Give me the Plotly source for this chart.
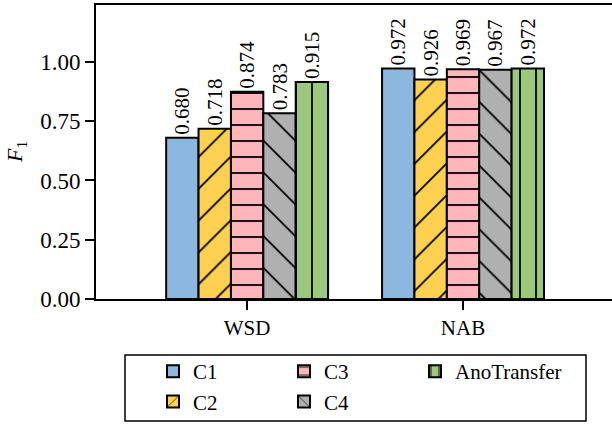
import plotly.graph_objects as go

categories = ["WSD", "NAB"]
series_names = ["C1", "C2", "C3", "C4", "AnoTransfer"]
c1 = [0.680, 0.972]
c2 = [0.718, 0.926]
c3 = [0.874, 0.969]
c4 = [0.783, 0.967]
anotransfer = [0.915, 0.972]
values = [c1, c2, c3, c4, anotransfer]
y_tickvals = [0.0, 0.25, 0.5, 0.75, 1.0]
y_ticktext = ["0.00", "0.25", "0.50", "0.75", "1.00"]
y_title = "<i>F</i><sub>1</sub>"

colors = ["#8CB8E0", "#FED250", "#FFB6BA", "#B0B0B0", "#9BC87D"]
shapes = ["", "/", "-", "\\", "|"]
sizes = [10, 22.5, 16, 22.5, 16]
legend_ids = ["legend", "legend", "legend2", "legend2", "legend3"]

FONT = "Liberation Serif"
W, H = 612, 424
ML, MR, MT, MB = 96, 0, 5, 125

fig = go.Figure()
for name, vals, col, shp, sz, lg in zip(series_names, values, colors, shapes, sizes, legend_ids):
    fig.add_trace(go.Bar(
        x=categories, y=vals, name=name,
        text=[f"{v:.3f}" for v in vals],
        textposition="outside", textangle=-90, constraintext="none",
        textfont=dict(family=FONT, size=21, color="black"),
        cliponaxis=False,
        legend=lg,
        marker=dict(
            color=col,
            line=dict(color="black", width=2),
            pattern=dict(shape=shp, fillmode="overlay", fgcolor="black",
                         fgopacity=1, size=sz, solidity=min(1.0, 1.8 / sz)),
        ),
    ))

def legend_at(px_left, px_top):
    return dict(
        orientation="v", xref="container", yref="container",
        x=px_left / W, xanchor="left", y=1 - px_top / H, yanchor="top",
        borderwidth=0, bgcolor="rgba(0,0,0,0)",
        font=dict(family=FONT, size=21, color="black"),
        itemwidth=30, tracegroupgap=0,
    )

plot_w = W - ML - MR
plot_h = H - MT - MB
def px_to_paper_x(px):
    return (px - ML) / plot_w
def px_to_paper_y(py):
    return (H - MB - py) / plot_h

fig.update_layout(
    width=W, height=H,
    margin=dict(l=ML, r=MR, t=MT, b=MB, autoexpand=False),
    barmode="group", bargap=0.25, bargroupgap=0,
    plot_bgcolor="white", paper_bgcolor="white",
    font=dict(family=FONT, size=21, color="black"),
    showlegend=True,
    legend=legend_at(153, 351),
    legend2=legend_at(284, 351),
    legend3=legend_at(415, 351),
    shapes=[dict(
        type="rect", xref="paper", yref="paper",
        x0=px_to_paper_x(125), x1=px_to_paper_x(586),
        y0=px_to_paper_y(421), y1=px_to_paper_y(355),
        line=dict(color="black", width=1.5), fillcolor="rgba(0,0,0,0)", layer="above",
    )],
    annotations=[dict(
        text=y_title, xref="paper", yref="paper",
        x=px_to_paper_x(16), y=px_to_paper_y(152), xanchor="center", yanchor="middle",
        textangle=-90, showarrow=False, font=dict(family=FONT, size=22, color="black"),
    )],
)
fig.update_xaxes(
    range=[-0.70, 1.69], showline=True, linecolor="black", linewidth=2,
    mirror=True, ticks="outside", ticklen=9, tickwidth=2, tickcolor="black",
    showgrid=False, tickfont=dict(family=FONT, size=21), automargin=False,
)
fig.update_yaxes(
    range=[0, 1.24], showline=True, linecolor="black", linewidth=2,
    ticks="outside", ticklen=9, tickwidth=2, tickcolor="black",
    tickvals=y_tickvals, ticktext=y_ticktext, showgrid=False, zeroline=False,
    tickfont=dict(family=FONT, size=23), automargin=False,
)

fig.write_html("out.html", config={"displayModeBar": False},
               post_script="document.body.style.margin='0';document.body.style.padding='0';")
